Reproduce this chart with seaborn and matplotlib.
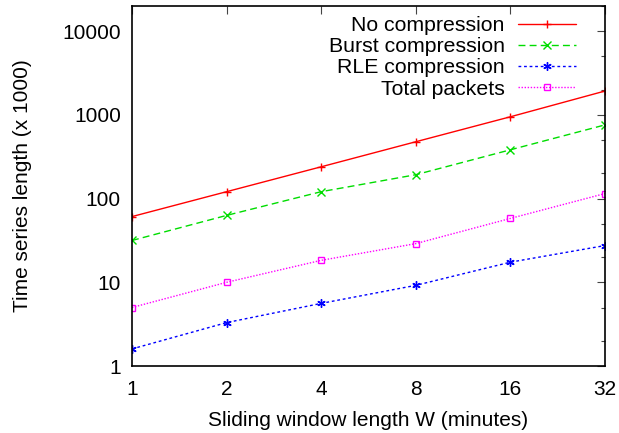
import matplotlib
matplotlib.use("Agg")
import matplotlib.pyplot as plt
import seaborn as sns
import pandas as pd
import numpy as np
from matplotlib.ticker import LogLocator, FixedLocator, FixedFormatter, NullFormatter

sns.set_theme(style="white")
plt.rcParams['font.family'] = ['Liberation Sans', 'DejaVu Sans']
plt.rcParams['text.color'] = 'black'
plt.rcParams['axes.labelcolor'] = 'black'
plt.rcParams['xtick.labelcolor'] = 'black'
plt.rcParams['ytick.labelcolor'] = 'black'

window = [1, 2, 4, 8, 16, 32]
no_compression = [61, 121, 240, 478, 950, 1930]
burst_compression = [31.6, 63, 121, 193, 383, 760]
rle_compression = [1.6, 3.3, 5.6, 9.2, 17.4, 27.5]
total_packets = [5.0, 10, 18.3, 29, 58, 115]

series_names = ["No compression", "Burst compression", "RLE compression", "Total packets"]
series_values = [no_compression, burst_compression, rle_compression, total_packets]
x_ticks = [1, 2, 4, 8, 16, 32]
y_ticks = [1, 10, 100, 1000, 10000]

colors = ["#ff0000", "#00dd00", "#0000ff", "#ff00ff"]
markers = ["+", "x", (6, 2, 0), "s"]
dashes = ["-", (0, (5, 3)), (0, (2, 2)), (0, (1, 1.2))]

fig = plt.figure(figsize=(6.19, 4.33), dpi=100)
ax = fig.add_axes([0.2132, 0.1547, 0.7642, 0.8314])

for name, vals, c, m, ls in zip(series_names, series_values, colors, markers, dashes):
    df = pd.DataFrame({"W": window, "len": vals})
    mfc = "none" if m == "s" else c
    sns.lineplot(data=df, x="W", y="len", ax=ax, color=c, marker=m, linestyle=ls,
                 linewidth=1.0, markersize=6 if m != "s" else 5, markerfacecolor=mfc,
                 markeredgecolor=c, markeredgewidth=1.0, label=name)

ax.set_xscale("log", base=2)
ax.set_yscale("log")
ax.set_xlim(1, 32)
ax.set_ylim(1, 20000)
ax.xaxis.set_major_locator(FixedLocator(x_ticks))
ax.xaxis.set_major_formatter(FixedFormatter([str(t) for t in x_ticks]))
ax.xaxis.set_minor_locator(FixedLocator([]))
ax.yaxis.set_major_locator(FixedLocator(y_ticks))
ax.yaxis.set_major_formatter(FixedFormatter([str(t) for t in y_ticks]))
ax.yaxis.set_minor_locator(LogLocator(base=10, subs=(2.0, 5.0)))
ax.yaxis.set_minor_formatter(NullFormatter())

ax.tick_params(axis="both", which="major", direction="in", length=6, width=0.8,
               top=True, right=True, labelsize=15, color="#444444")
ax.tick_params(axis="x", which="major", pad=10)
ax.tick_params(axis="y", which="major", pad=8)
ax.tick_params(axis="both", which="minor", direction="in", length=3, width=0.8,
               top=True, right=True, color="#444444")
for sp in ax.spines.values():
    sp.set_color("black")
    sp.set_linewidth(1.2)

ax.set_xlabel("Sliding window length W (minutes)", fontsize=15, labelpad=9)
ax.set_ylabel("Time series length (x 1000)", fontsize=15, labelpad=22)

leg = ax.legend(loc="upper right", bbox_to_anchor=(0.965, 1.007), frameon=False,
                markerfirst=False, fontsize=15.3, handlelength=2.7, handletextpad=0.65,
                labelspacing=0.1, borderaxespad=0.2)

fig.savefig("out.png", dpi=100)
